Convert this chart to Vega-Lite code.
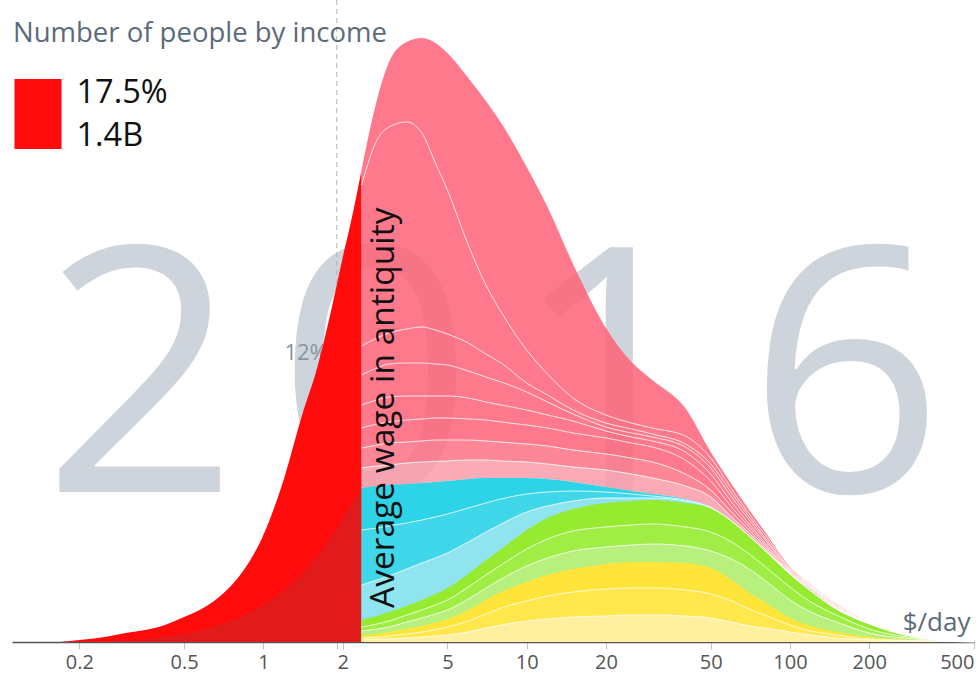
{
  "$schema": "https://vega.github.io/schema/vega-lite/v6.json",
  "width": 962,
  "height": 642,
  "autosize": {"type": "none"},
  "padding": {"left": 12, "top": 0, "right": 3, "bottom": 33},
  "background": "white",
  "config": {"view": {"stroke": null}, "font": "Open Sans", "style": {"guide-label": {"lineHeight": 43}}},
  "datasets": {
    "digits": [{"d": "2"}, {"d": "0"}, {"d": "1"}, {"d": "6"}],
    "red": [
      {"x": 0.17, "top": 0.05, "mid": 0.02},
      {"x": 0.2, "top": 1, "mid": 0.25},
      {"x": 0.25, "top": 2.5, "mid": 0.5},
      {"x": 0.3, "top": 4.5, "mid": 1},
      {"x": 0.4, "top": 7.5, "mid": 2},
      {"x": 0.5, "top": 12.5, "mid": 4},
      {"x": 0.6, "top": 17.5, "mid": 6.5},
      {"x": 0.7, "top": 24, "mid": 9},
      {"x": 0.8, "top": 32, "mid": 12},
      {"x": 1, "top": 53.5, "mid": 18.5},
      {"x": 1.2, "top": 82, "mid": 26},
      {"x": 1.4, "top": 113, "mid": 34},
      {"x": 1.6, "top": 137, "mid": 43},
      {"x": 1.8, "top": 164.5, "mid": 52},
      {"x": 2, "top": 192, "mid": 62},
      {"x": 2.2, "top": 216, "mid": 71},
      {"x": 2.36, "top": 236, "mid": 77}
    ],
    "mix": [
      {"x": 2.36, "t": 236, "l1": 228.5, "l2": 148, "l3": 133.5, "l4": 118.5, "l5": 107, "l6": 97, "l7": 87, "ct": 77, "c1": 56, "cb": 28.5, "gt": 11, "gm": 7.5, "gb": 5.5, "yt": 3, "ym": 2, "yb": 1},
      {"x": 2.7, "t": 271, "l1": 251, "l2": 152, "l3": 137, "l4": 121, "l5": 109, "l6": 98.5, "l7": 88, "ct": 78, "c1": 57, "cb": 31, "gt": 13, "gm": 9, "gb": 6.5, "yt": 4, "ym": 2.5, "yb": 1.5},
      {"x": 3, "t": 290, "l1": 257.5, "l2": 154.5, "l3": 139, "l4": 122.5, "l5": 110, "l6": 99.5, "l7": 88.5, "ct": 78.5, "c1": 58, "cb": 33, "gt": 15, "gm": 10.5, "gb": 7.5, "yt": 5, "ym": 3, "yb": 1.5},
      {"x": 3.5, "t": 300, "l1": 260, "l2": 156.5, "l3": 139.5, "l4": 123, "l5": 111, "l6": 100, "l7": 89.5, "ct": 79, "c1": 59.5, "cb": 36.5, "gt": 18, "gm": 13.5, "gb": 10, "yt": 6.5, "ym": 4, "yb": 2},
      {"x": 4, "t": 302, "l1": 254.5, "l2": 157.5, "l3": 139.5, "l4": 123, "l5": 111.5, "l6": 100.5, "l7": 90, "ct": 79.5, "c1": 61, "cb": 39.5, "gt": 21, "gm": 16, "gb": 12, "yt": 8, "ym": 5, "yb": 2.5},
      {"x": 4.5, "t": 299.5, "l1": 239.5, "l2": 156, "l3": 139, "l4": 123, "l5": 112, "l6": 101, "l7": 90.3, "ct": 80, "c1": 62.5, "cb": 42, "gt": 24, "gm": 18.5, "gb": 14, "yt": 9.7, "ym": 6.2, "yb": 3},
      {"x": 5, "t": 294.5, "l1": 226, "l2": 154, "l3": 138.5, "l4": 123, "l5": 112, "l6": 101, "l7": 90.5, "ct": 80.5, "c1": 64, "cb": 44.5, "gt": 27, "gm": 21, "gb": 16, "yt": 11.5, "ym": 7.5, "yb": 3.5},
      {"x": 6, "t": 282, "l1": 198.5, "l2": 149.5, "l3": 135.5, "l4": 122, "l5": 111.5, "l6": 101, "l7": 91, "ct": 81.5, "c1": 67, "cb": 50, "gt": 34, "gm": 27.5, "gb": 21.5, "yt": 16, "ym": 10.5, "yb": 5},
      {"x": 7, "t": 270.5, "l1": 178.5, "l2": 144, "l3": 132.5, "l4": 120, "l5": 111, "l6": 100.5, "l7": 91, "ct": 82, "c1": 69.5, "cb": 55, "gt": 41, "gm": 33.5, "gb": 27, "yt": 21, "ym": 14, "yb": 7},
      {"x": 8, "t": 259.5, "l1": 165, "l2": 139.5, "l3": 130, "l4": 118.5, "l5": 110, "l6": 100, "l7": 90.5, "ct": 82, "c1": 71.5, "cb": 59, "gt": 46.5, "gm": 38.5, "gb": 31.5, "yt": 25, "ym": 17, "yb": 8.5},
      {"x": 10, "t": 237.5, "l1": 146, "l2": 129.5, "l3": 125, "l4": 116, "l5": 108.5, "l6": 99, "l7": 90, "ct": 82, "c1": 74, "cb": 65, "gt": 56, "gm": 46.5, "gb": 38, "yt": 30, "ym": 20.5, "yb": 10.5},
      {"x": 12, "t": 217.5, "l1": 134, "l2": 123.5, "l3": 120, "l4": 113.5, "l5": 107, "l6": 98, "l7": 89, "ct": 81.5, "c1": 75, "cb": 68, "gt": 62, "gm": 51.5, "gb": 42, "yt": 33.5, "ym": 23, "yb": 11.5},
      {"x": 15, "t": 189, "l1": 122, "l2": 116, "l3": 114, "l4": 110.5, "l5": 104.5, "l6": 96, "l7": 87.5, "ct": 80, "c1": 75.5, "cb": 70.5, "gt": 66.5, "gm": 55.5, "gb": 45.5, "yt": 36.5, "ym": 25, "yb": 12.5},
      {"x": 20, "t": 157, "l1": 113.5, "l2": 109.5, "l3": 107.5, "l4": 105.5, "l5": 102, "l6": 94, "l7": 86, "ct": 77.5, "c1": 75, "cb": 72, "gt": 69.5, "gm": 57.5, "gb": 47.5, "yt": 39, "ym": 26.5, "yb": 13},
      {"x": 25, "t": 140, "l1": 109.5, "l2": 106.5, "l3": 104.5, "l4": 102.5, "l5": 99.5, "l6": 92, "l7": 84, "ct": 75.5, "c1": 74, "cb": 72, "gt": 70.5, "gm": 58.5, "gb": 48.5, "yt": 40, "ym": 27, "yb": 13.5},
      {"x": 30, "t": 131, "l1": 107, "l2": 104, "l3": 102.5, "l4": 100.5, "l5": 97.5, "l6": 90, "l7": 82, "ct": 74, "c1": 73, "cb": 72, "gt": 71, "gm": 59, "gb": 49, "yt": 40, "ym": 27, "yb": 13.5},
      {"x": 40, "t": 117, "l1": 103, "l2": 99, "l3": 97.5, "l4": 95, "l5": 91, "l6": 84, "l7": 78, "ct": 71.5, "c1": 71, "cb": 70.5, "gt": 69.5, "gm": 57.5, "gb": 48, "yt": 39.5, "ym": 26, "yb": 13},
      {"x": 50, "t": 95, "l1": 92, "l2": 89, "l3": 87, "l4": 84, "l5": 80.5, "l6": 76, "l7": 72.5, "ct": 67.5, "c1": 67.3, "cb": 67.1, "gt": 67, "gm": 55, "gb": 45.5, "yt": 37, "ym": 24, "yb": 12},
      {"x": 60, "t": 79, "l1": 76.5, "l2": 74.5, "l3": 72.5, "l4": 70, "l5": 67.5, "l6": 65, "l7": 62.5, "ct": 60.5, "c1": 60.5, "cb": 60.5, "gt": 60.5, "gm": 50, "gb": 41.5, "yt": 31, "ym": 20.5, "yb": 10},
      {"x": 70, "t": 66, "l1": 64, "l2": 62.5, "l3": 61, "l4": 59, "l5": 57.5, "l6": 56, "l7": 54.5, "ct": 53, "c1": 53, "cb": 53, "gt": 53, "gm": 44, "gb": 36.5, "yt": 24.5, "ym": 16.5, "yb": 8},
      {"x": 80, "t": 55.5, "l1": 54, "l2": 52.5, "l3": 51.5, "l4": 50, "l5": 49, "l6": 48, "l7": 47, "ct": 46, "c1": 46, "cb": 46, "gt": 46, "gm": 38, "gb": 31, "yt": 20, "ym": 13.5, "yb": 7},
      {"x": 100, "t": 37.5, "l1": 37, "l2": 36.5, "l3": 36, "l4": 35.5, "l5": 35, "l6": 34.5, "l7": 34.2, "ct": 34, "c1": 34, "cb": 34, "gt": 34, "gm": 27.5, "gb": 21, "yt": 12, "ym": 8.5, "yb": 5},
      {"x": 120, "t": 28.5, "l1": 28.2, "l2": 28, "l3": 27.8, "l4": 27.5, "l5": 27.2, "l6": 26.8, "l7": 26.5, "ct": 25.5, "c1": 25.5, "cb": 25.5, "gt": 25.5, "gm": 20, "gb": 15, "yt": 8, "ym": 5.5, "yb": 3.5},
      {"x": 150, "t": 19, "l1": 18.7, "l2": 18.4, "l3": 18.1, "l4": 17.8, "l5": 17.5, "l6": 17.2, "l7": 16.9, "ct": 16.5, "c1": 16.5, "cb": 16.5, "gt": 16.5, "gm": 13.5, "gb": 10, "yt": 5, "ym": 3.5, "yb": 2},
      {"x": 200, "t": 10, "l1": 9.9, "l2": 9.8, "l3": 9.7, "l4": 9.6, "l5": 9.5, "l6": 9.4, "l7": 9.3, "ct": 9.2, "c1": 9.1, "cb": 9.05, "gt": 9, "gm": 6.5, "gb": 4.5, "yt": 2.5, "ym": 1.5, "yb": 1},
      {"x": 300, "t": 3, "l1": 2.95, "l2": 2.9, "l3": 2.85, "l4": 2.8, "l5": 2.75, "l6": 2.7, "l7": 2.65, "ct": 2.6, "c1": 2.55, "cb": 2.52, "gt": 2.5, "gm": 2, "gb": 1.5, "yt": 1, "ym": 0.7, "yb": 0.5},
      {"x": 500, "t": 0.3, "l1": 0.29, "l2": 0.28, "l3": 0.27, "l4": 0.26, "l5": 0.25, "l6": 0.25, "l7": 0.25, "ct": 0.25, "c1": 0.25, "cb": 0.25, "gt": 0.25, "gm": 0.2, "gb": 0.15, "yt": 0.1, "ym": 0.07, "yb": 0.05}
    ]
  },
  "resolve": {"scale": {"x": "independent"}},
  "layer": [
    {
      "data": {"name": "digits"},
      "mark": {"type": "text", "fontSize": 343, "font": "Open Sans", "color": "#cdd4db", "baseline": "alphabetic", "align": "center"},
      "encoding": {
        "x": {"field": "d", "type": "ordinal", "scale": {"type": "point", "domain": ["2", "0", "1", "6"], "padding": 0.547}, "axis": null},
        "y": {"datum": 75, "type": "quantitative", "scale": {"domain": [0, 321], "nice": false, "zero": true}, "axis": null},
        "text": {"field": "d"}
      }
    },
    {
      "layer": [
        {
          "data": {"values": [{}]},
          "mark": {"type": "rule", "color": "#b5b5b5", "strokeDash": [5, 4], "strokeWidth": 1},
          "encoding": {"x": {"datum": 1.9, "type": "quantitative", "scale": {"type": "log", "domain": [0.111, 500], "nice": false}}}
        },
        {
          "data": {"values": [{}]},
          "mark": {"type": "text", "text": "12%", "align": "right", "baseline": "alphabetic", "dx": -9, "fontSize": 22, "font": "Open Sans", "color": "#8795a3"},
          "encoding": {
            "x": {"datum": 1.9, "type": "quantitative", "scale": {"type": "log", "domain": [0.111, 500], "nice": false}},
            "y": {"datum": 141, "type": "quantitative", "scale": {"domain": [0, 321], "nice": false}, "axis": null}
          }
        },
        {
          "data": {"name": "red"},
          "encoding": {"x": {"field": "x", "type": "quantitative", "scale": {"type": "log", "domain": [0.111, 500], "nice": false}}},
          "layer": [
            {
              "mark": {"type": "area", "interpolate": "monotone"},
              "encoding": {
                "y": {"field": "top", "type": "quantitative", "stack": null, "scale": {"domain": [0, 321], "nice": false}, "axis": null},
                "color": {
                  "datum": "poor", "type": "nominal",
                  "scale": {"domain": ["poor"], "range": ["#ff0b0b"]},
                  "legend": {
                    "title": "Number of people by income",
                    "orient": "none", "legendX": 1, "legendY": 20,
                    "titleFontSize": 27.5, "titleFontWeight": "normal", "titleColor": "#5b6b7a", "titleFont": "Open Sans", "titleLimit": 600, "titlePadding": 10,
                    "symbolType": "M-0.957,-0.386L0.386,-0.386L0.386,1.614L-0.957,1.614Z", "symbolSize": 4900, "symbolStrokeWidth": 0, "symbolOpacity": 1,
                    "labelExpr": "['17.5%', '1.4B']",
                    "labelFontSize": 32.5, "labelColor": "#111111", "labelFont": "Open Sans", "labelOffset": -6.5, "labelLimit": 400
                  }
                }
              }
            },
            {
              "mark": {"type": "area", "interpolate": "monotone", "color": "#e11a1c"},
              "encoding": {"y": {"field": "mid", "type": "quantitative", "stack": null}}
            }
          ]
        },
        {
          "data": {"name": "mix"},
          "encoding": {
            "x": {
              "field": "x", "type": "quantitative",
              "scale": {"type": "log", "domain": [0.111, 500], "nice": false},
              "axis": {
                "values": [0.2, 0.5, 1, 1.9, 2, 5, 10, 20, 50, 100, 200, 500],
                "format": "~g",
                "labelExpr": "datum.value == 1.9 ? '' : datum.label",
                "labelAlign": {"condition": {"test": "datum.value == 500", "value": "right"}, "value": "center"},
                "labelOverlap": false, "labelFlush": false,
                "title": "$/day", "titleAnchor": "end", "titleAlign": "right", "titleBaseline": "alphabetic",
                "titleX": 958, "titleY": -12, "titleFontSize": 26, "titleFontWeight": "normal", "titleColor": "#5b6b7a", "titleFont": "Open Sans",
                "domainColor": "#555555", "domainWidth": 1.5,
                "tickColor": "#c4c4c4", "tickSize": 7, "tickWidth": 1,
                "labelFontSize": 20, "labelColor": "#555555", "labelFont": "Open Sans", "labelPadding": 3,
                "grid": false
              }
            }
          },
          "layer": [
            {"mark": {"type": "area", "interpolate": "monotone", "color": "#fe6277", "opacity": 0.85}, "encoding": {"y": {"field": "t", "type": "quantitative", "stack": null}, "y2": {"field": "l6"}}},
            {"mark": {"type": "area", "interpolate": "monotone", "color": "#fd7285", "opacity": 0.85}, "encoding": {"y": {"field": "l6", "type": "quantitative", "stack": null}, "y2": {"field": "l7"}}},
            {"mark": {"type": "area", "interpolate": "monotone", "color": "#fa9ba9", "opacity": 0.85}, "encoding": {"y": {"field": "l7", "type": "quantitative", "stack": null}, "y2": {"field": "ct"}}},
            {"mark": {"type": "area", "interpolate": "monotone", "color": "#2dd3e6"}, "encoding": {"y": {"field": "ct", "type": "quantitative", "stack": null}}},
            {"mark": {"type": "area", "interpolate": "monotone", "color": "#3fd7e9"}, "encoding": {"y": {"field": "c1", "type": "quantitative", "stack": null}}},
            {"mark": {"type": "area", "interpolate": "monotone", "color": "#8fe4f0"}, "encoding": {"y": {"field": "cb", "type": "quantitative", "stack": null}}},
            {"mark": {"type": "area", "interpolate": "monotone", "color": "#96eb31"}, "encoding": {"y": {"field": "gt", "type": "quantitative", "stack": null}}},
            {"mark": {"type": "area", "interpolate": "monotone", "color": "#9fed45"}, "encoding": {"y": {"field": "gm", "type": "quantitative", "stack": null}}},
            {"mark": {"type": "area", "interpolate": "monotone", "color": "#b8f07e"}, "encoding": {"y": {"field": "gb", "type": "quantitative", "stack": null}}},
            {"mark": {"type": "area", "interpolate": "monotone", "color": "#ffe53a"}, "encoding": {"y": {"field": "yt", "type": "quantitative", "stack": null}}},
            {"mark": {"type": "area", "interpolate": "monotone", "color": "#ffe74c"}, "encoding": {"y": {"field": "ym", "type": "quantitative", "stack": null}}},
            {"mark": {"type": "area", "interpolate": "monotone", "color": "#fff0a0"}, "encoding": {"y": {"field": "yb", "type": "quantitative", "stack": null}}},
            {
              "transform": [{"fold": ["l1", "l2", "l3", "l4", "l5", "l6", "l7", "c1", "cb", "gm", "gb", "ym", "yb"], "as": ["key", "val"]}],
              "mark": {"type": "line", "interpolate": "monotone", "color": "white", "strokeWidth": 1, "opacity": 0.8},
              "encoding": {
                "y": {"field": "val", "type": "quantitative"},
                "detail": {"field": "key", "type": "nominal"}
              }
            }
          ]
        },
        {
          "data": {"values": [{}]},
          "mark": {"type": "text", "text": "Average wage in antiquity", "angle": 270, "align": "left", "baseline": "top", "fontSize": 33.5, "font": "Open Sans", "color": "#111111"},
          "encoding": {
            "x": {"datum": 2.5, "type": "quantitative", "scale": {"type": "log", "domain": [0.111, 500], "nice": false}},
            "y": {"datum": 17, "type": "quantitative"}
          }
        }
      ]
    }
  ]
}
